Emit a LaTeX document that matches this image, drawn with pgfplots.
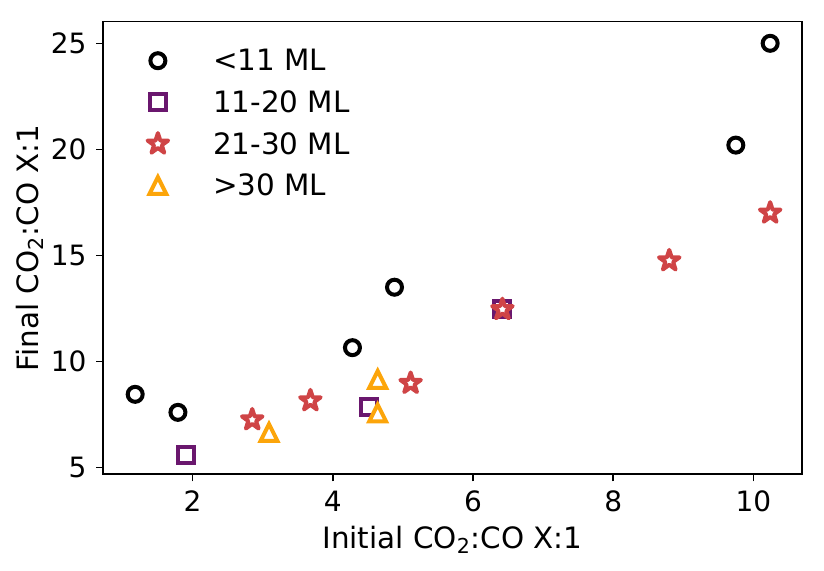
\documentclass[border=0pt]{standalone}
\usepackage{fontspec}
\setmainfont{DejaVu Sans}
\usepackage{pgfplots}
\pgfplotsset{compat=1.18}
\definecolor{cpurple}{HTML}{6A176E}
\definecolor{cred}{HTML}{CF4446}
\definecolor{corange}{HTML}{FCA50A}
\pgfdeclareplotmark{mstar}{%
  \pgfpathmoveto{\pgfpointpolar{90}{\pgfplotmarksize}}%
  \pgfpathlineto{\pgfpointpolar{126}{0.381966\pgfplotmarksize}}%
  \pgfpathlineto{\pgfpointpolar{162}{\pgfplotmarksize}}%
  \pgfpathlineto{\pgfpointpolar{198}{0.381966\pgfplotmarksize}}%
  \pgfpathlineto{\pgfpointpolar{234}{\pgfplotmarksize}}%
  \pgfpathlineto{\pgfpointpolar{270}{0.381966\pgfplotmarksize}}%
  \pgfpathlineto{\pgfpointpolar{306}{\pgfplotmarksize}}%
  \pgfpathlineto{\pgfpointpolar{342}{0.381966\pgfplotmarksize}}%
  \pgfpathlineto{\pgfpointpolar{18}{\pgfplotmarksize}}%
  \pgfpathlineto{\pgfpointpolar{54}{0.381966\pgfplotmarksize}}%
  \pgfpathclose\pgfusepathqfillstroke}
\pgfdeclareplotmark{mtri}{%
  \pgfpathmoveto{\pgfqpoint{0pt}{\pgfplotmarksize}}%
  \pgfpathlineto{\pgfqpoint{-\pgfplotmarksize}{-\pgfplotmarksize}}%
  \pgfpathlineto{\pgfqpoint{\pgfplotmarksize}{-\pgfplotmarksize}}%
  \pgfpathclose\pgfusepathqfillstroke}
\begin{document}
\fontsize{14}{17}\selectfont
\begin{tikzpicture}
\begin{axis}[
  scale only axis,
  width=349.2pt, height=226.3pt,
  xmin=0.725, xmax=10.69,
  ymin=4.68, ymax=26.02,
  xtick={2,4,6,8,10},
  ytick={5,10,15,20,25},
  tick align=outside,
  major tick length=3.5pt,
  tick style={line width=0.8pt, black},
  axis line style={line width=0.8pt},
  xtick pos=bottom, ytick pos=left,
  /pgf/number format/assume math mode=true,
  tick label style={font=\fontsize{14}{17}\selectfont},
  label style={font=\fontsize{14.7}{17}\selectfont},
  xlabel={Initial CO\textsubscript{2}:CO X:1},
  ylabel={Final CO\textsubscript{2}:CO X:1},
  xlabel style={at={(axis description cs:0.5,-0.1453)}, anchor=center},
  ylabel style={at={(axis description cs:-0.1048,0.5)}, anchor=center},
  legend style={draw=none, fill=none, at={(axis description cs:0.0543,0.954)}, anchor=north west,
    font=\fontsize{14.7}{17}\selectfont, row sep=3.8pt, column sep=20.5pt,
    nodes={text height=10pt, text depth=3pt, inner sep=2pt}},
  legend cell align=left,
  legend image code/.code={\draw[mark repeat=2,mark phase=2,#1] plot coordinates {(0pt,1.6pt)(9pt,1.6pt)(18pt,1.6pt)};},
]
\coordinate (SW) at (rel axis cs:0,0);
\coordinate (NE) at (rel axis cs:1,1);
\addplot[only marks, mark=o, mark size=3.75pt, line width=2pt, draw=black] coordinates {
 (1.18,8.45) (1.79,7.6) (4.28,10.65) (4.88,13.5) (9.75,20.2) (10.24,25.0)};
\addlegendentry{<11 ML}
\addplot[only marks, mark=square*, mark size=4pt, line width=2pt, draw=cpurple, fill=white, mark options={solid}] coordinates {
 (1.90,5.6) (4.52,7.85) (6.42,12.45)};
\addlegendentry{11-20 ML}
\addplot[only marks, mark=mstar, mark size=5.4pt, line width=2pt, draw=cred, fill=white, line join=round] coordinates {
 (2.85,7.25) (3.68,8.15) (5.11,8.97) (6.42,12.45) (8.80,14.75) (10.24,17.0)};
\addlegendentry{21-30 ML}
\addplot[only marks, mark=mtri, mark size=4.2pt, line width=2pt, draw=corange, fill=white, line join=miter] coordinates {
 (3.09,6.65) (4.64,9.15) (4.64,7.57)};
\addlegendentry{>30 ML}
\end{axis}
\pgfresetboundingbox
\path[use as bounding box] ([shift={(-51.65pt,-48.35pt)}]SW) rectangle ([shift={(11.15pt,10.85pt)}]NE);
\end{tikzpicture}
\end{document}
